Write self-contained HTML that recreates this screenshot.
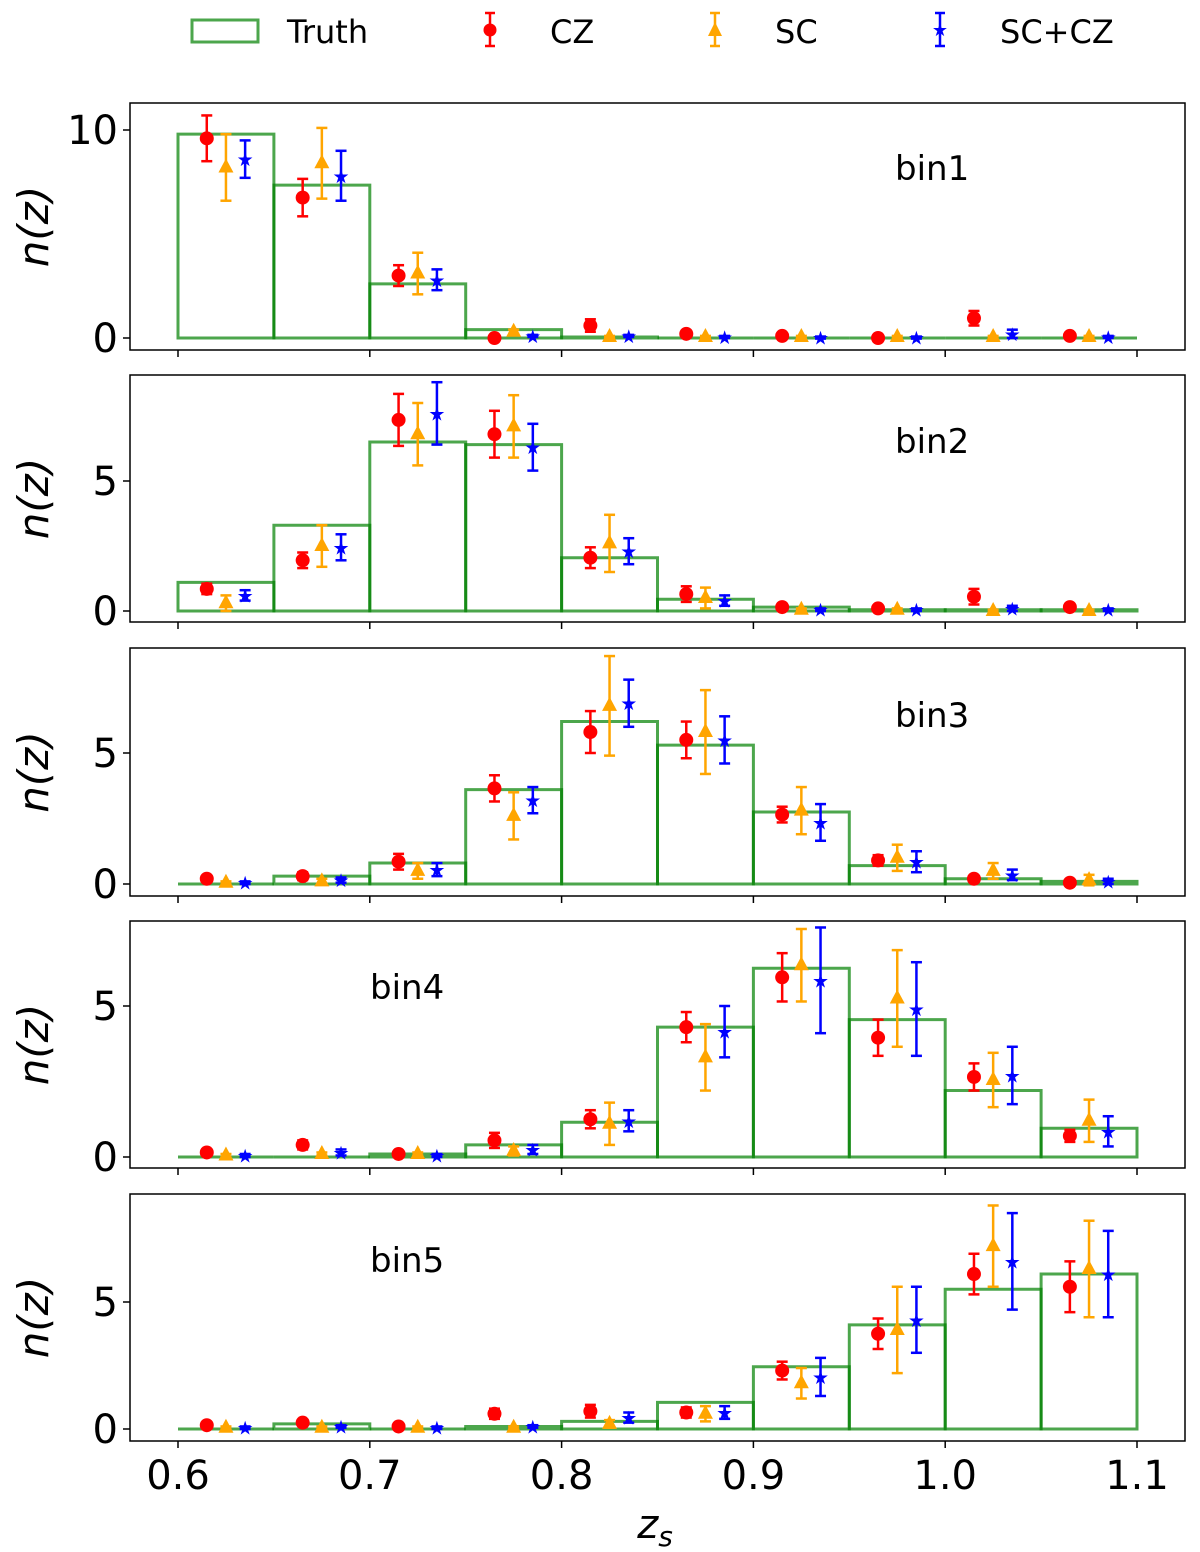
<!DOCTYPE html>
<html><head><meta charset="utf-8"><style>
html,body{margin:0;padding:0;background:#fff;}
svg{display:block;font-family:"DejaVu Sans","Liberation Sans",sans-serif;}
</style></head><body>
<svg id="chart" width="1200" height="1552" viewBox="0 0 1200 1552" xmlns="http://www.w3.org/2000/svg">
<g id="legend">
  <g>
    <rect x="192" y="20" width="66" height="22" fill="none" stroke="green" stroke-opacity="0.7" stroke-width="3"/>
    <text x="287" y="43" font-size="32">Truth</text>
  </g>
  <g>
    <line x1="490" y1="13" x2="490" y2="46" stroke="red" stroke-width="2.5"/><line x1="485" y1="13" x2="495" y2="13" stroke="red" stroke-width="2.5"/><line x1="485" y1="46" x2="495" y2="46" stroke="red" stroke-width="2.5"/>
    <circle cx="490" cy="30" r="6.5" fill="red"/>
    <text x="550" y="43" font-size="32">CZ</text>
  </g>
  <g>
    <line x1="715" y1="13" x2="715" y2="46" stroke="orange" stroke-width="2.5"/><line x1="710" y1="13" x2="720" y2="13" stroke="orange" stroke-width="2.5"/><line x1="710" y1="46" x2="720" y2="46" stroke="orange" stroke-width="2.5"/>
    <polygon points="715,22 722,36 708,36" fill="orange"/>
    <text x="775" y="43" font-size="32">SC</text>
  </g>
  <g>
    <line x1="940" y1="13" x2="940" y2="46" stroke="blue" stroke-width="2.5"/><line x1="935" y1="13" x2="945" y2="13" stroke="blue" stroke-width="2.5"/><line x1="935" y1="46" x2="945" y2="46" stroke="blue" stroke-width="2.5"/>
    <text x="940" y="36" font-size="18" fill="blue" text-anchor="middle">★</text>
    <text x="1000" y="43" font-size="32">SC+CZ</text>
  </g>
</g>
<text x="655" y="1538" font-size="40" font-style="italic" text-anchor="middle">z<tspan font-size="28" dy="8">s</tspan></text>
</svg>
<script>
const edges = [0.6,0.65,0.7,0.75,0.8,0.85,0.9,0.95,1.0,1.05,1.1];
const xTicks = [0.6,0.7,0.8,0.9,1.0,1.1];
const xTickLabels = ["0.6","0.7","0.8","0.9","1.0","1.1"];
const binNames = ["bin1","bin2","bin3","bin4","bin5"];
const truth1 = [9.8,7.35,2.6,0.4,0.05,0,0,0,0,0];
const truth2 = [1.1,3.3,6.5,6.4,2.05,0.45,0.15,0.05,0.05,0.05];
const truth3 = [0.0,0.3,0.8,3.6,6.2,5.3,2.75,0.7,0.2,0.1];
const truth4 = [0.0,0.0,0.1,0.4,1.15,4.3,6.25,4.55,2.2,0.95];
const truth5 = [0.0,0.2,0.0,0.1,0.3,1.05,2.45,4.1,5.5,6.1];
const cz1 = [9.6,6.75,3.0,0.0,0.6,0.2,0.1,0.0,0.95,0.1];
const czErr1 = [1.1,0.9,0.5,0.05,0.3,0.15,0.1,0.05,0.35,0.15];
const sc1 = [8.2,8.4,3.1,0.3,0.05,0.05,0.05,0.05,0.05,0.05];
const scErr1 = [1.6,1.7,1.0,0.1,0.05,0.05,0.05,0.05,0.05,0.05];
const both1 = [8.6,7.8,2.8,0.1,0.1,0.05,0.02,0.02,0.2,0.05];
const bothErr1 = [0.9,1.2,0.5,0.05,0.05,0.05,0.05,0.05,0.2,0.05];
const cz2 = [0.85,1.95,7.35,6.8,2.05,0.65,0.15,0.1,0.55,0.15];
const czErr2 = [0.2,0.3,1.0,0.9,0.4,0.3,0.1,0.05,0.3,0.1];
const sc2 = [0.3,2.5,6.8,7.1,2.6,0.5,0.05,0.05,0.0,0.0];
const scErr2 = [0.3,0.8,1.2,1.2,1.1,0.4,0.05,0.05,0.05,0.05];
const both2 = [0.6,2.45,7.6,6.3,2.3,0.4,0.05,0.05,0.1,0.05];
const bothErr2 = [0.2,0.5,1.2,0.9,0.5,0.2,0.05,0.05,0.1,0.05];
const cz3 = [0.2,0.3,0.85,3.65,5.8,5.5,2.65,0.9,0.2,0.05];
const czErr3 = [0.1,0.15,0.3,0.5,0.8,0.7,0.3,0.2,0.1,0.05];
const sc3 = [0.05,0.1,0.5,2.6,6.8,5.8,2.8,1.0,0.5,0.15];
const scErr3 = [0.05,0.1,0.3,0.9,1.9,1.6,0.9,0.5,0.3,0.2];
const both3 = [0.05,0.15,0.55,3.2,6.9,5.5,2.35,0.85,0.35,0.1];
const bothErr3 = [0.05,0.1,0.25,0.5,0.9,0.9,0.7,0.4,0.2,0.1];
const cz4 = [0.15,0.4,0.1,0.55,1.25,4.3,5.95,3.95,2.65,0.7];
const czErr4 = [0.1,0.15,0.05,0.25,0.3,0.5,0.8,0.6,0.45,0.2];
const sc4 = [0.05,0.1,0.1,0.2,1.1,3.3,6.35,5.25,2.55,1.2];
const scErr4 = [0.05,0.05,0.05,0.15,0.7,1.1,1.2,1.6,0.9,0.7];
const both4 = [0.05,0.15,0.05,0.25,1.2,4.15,5.85,4.9,2.7,0.85];
const bothErr4 = [0.05,0.1,0.05,0.15,0.35,0.85,1.75,1.55,0.95,0.5];
const cz5 = [0.15,0.25,0.1,0.6,0.7,0.65,2.3,3.75,6.1,5.6];
const czErr5 = [0.1,0.1,0.1,0.2,0.25,0.2,0.35,0.6,0.8,1.0];
const sc5 = [0.05,0.05,0.05,0.05,0.2,0.6,1.8,3.9,7.2,6.3];
const scErr5 = [0.05,0.05,0.05,0.05,0.15,0.3,0.6,1.7,1.6,1.9];
const both5 = [0.05,0.1,0.05,0.1,0.45,0.65,2.05,4.3,6.6,6.1];
const bothErr5 = [0.05,0.05,0.05,0.05,0.2,0.25,0.75,1.3,1.9,1.7];
const yTicks1 = [0,10];
const yTicks = [0,5];

const truths=[truth1,truth2,truth3,truth4,truth5];
const czs=[cz1,cz2,cz3,cz4,cz5], czErrs=[czErr1,czErr2,czErr3,czErr4,czErr5];
const scs=[sc1,sc2,sc3,sc4,sc5], scErrs=[scErr1,scErr2,scErr3,scErr4,scErr5];
const boths=[both1,both2,both3,both4,both5], bothErrs=[bothErr1,bothErr2,bothErr3,bothErr4,bothErr5];

const NS="http://www.w3.org/2000/svg";
const svg=document.getElementById('chart');
function mk(tag,attrs,parent){const e=document.createElementNS(NS,tag);for(const k in attrs)e.setAttribute(k,attrs[k]);parent.appendChild(e);return e;}
const X0=130,X1=1185;
function xs(v){return 178+(v-0.6)*1918;}
const layout=[
 {top:103,bot:350,zero:338,ppu:20.8,ticks:yTicks1,lx:895,ly:180},
 {top:375,bot:622,zero:611,ppu:26.0,ticks:yTicks,lx:895,ly:453},
 {top:648,bot:896,zero:884,ppu:26.2,ticks:yTicks,lx:895,ly:727},
 {top:921,bot:1168,zero:1157,ppu:30.2,ticks:yTicks,lx:370,ly:999},
 {top:1194,bot:1441,zero:1429,ppu:25.4,ticks:yTicks,lx:370,ly:1272}
];
function errbar(g,x,y,e,col,ysc){
  const a=ysc(y+e),b=ysc(y-e);
  mk('line',{x1:x,y1:a,x2:x,y2:b,stroke:col,'stroke-width':2.5},g);
  mk('line',{x1:x-5.5,y1:a,x2:x+5.5,y2:a,stroke:col,'stroke-width':2.5},g);
  mk('line',{x1:x-5.5,y1:b,x2:x+5.5,y2:b,stroke:col,'stroke-width':2.5},g);
}
layout.forEach((L,p)=>{
  const ysc=v=>L.zero-v*L.ppu;
  const g=mk('g',{},svg);
  
  
  const frame=mk('rect',{x:X0,y:L.top,width:X1-X0,height:L.bot-L.top,fill:'none',stroke:'#000','stroke-width':1.5},g);
  
  
  truths[p].forEach((v,i)=>{
    const xa=xs(edges[i]),xb=xs(edges[i+1]),yt=ysc(v),yb=ysc(0);
    const r=mk('path',{d:`M${xa},${yb}L${xa},${yt}L${xb},${yt}L${xb},${yb}Z`,fill:'none',stroke:'green','stroke-opacity':0.7,'stroke-width':3},g);
    
    
  });
  xTicks.forEach((t,i)=>{
    mk('line',{x1:xs(t),y1:L.bot,x2:xs(t),y2:L.bot+7,stroke:'#000','stroke-width':1.5},g);
    if(p===4){
      const tx=mk('text',{x:xs(t),y:L.bot+48,'font-size':40,'text-anchor':'middle'},g);
      tx.textContent=xTickLabels[i];
      
      
    }
  });
  L.ticks.forEach(t=>{
    mk('line',{x1:X0-7,y1:ysc(t),x2:X0,y2:ysc(t),stroke:'#000','stroke-width':1.5},g);
    const tx=mk('text',{x:X0-12,y:ysc(t)+14,'font-size':40,'text-anchor':'end'},g);
    tx.textContent=String(t);
    
    
  });
  const yl=mk('text',{x:0,y:0,'font-size':42,'font-style':'italic','text-anchor':'middle',transform:`translate(48,${(L.top+L.bot)/2}) rotate(-90)`},g);
  yl.textContent='n(z)';
  
  
  const bl=mk('text',{x:L.lx,y:L.ly,'font-size':34},g);
  bl.textContent=binNames[p];
  
  
  for(let i=0;i<10;i++){
    const c=(edges[i]+edges[i+1])/2;
    const g1=mk('g',{},g);
    
    
    const x1=xs(c-0.01);
    errbar(g1,x1,czs[p][i],czErrs[p][i],'red',ysc);
    mk('circle',{cx:x1,cy:ysc(czs[p][i]),r:7,fill:'red'},g1);
    const g2=mk('g',{},g);
    
    
    const x2=xs(c);
    errbar(g2,x2,scs[p][i],scErrs[p][i],'orange',ysc);
    const yy=ysc(scs[p][i]);
    mk('polygon',{points:`${x2},${yy-9} ${x2+7.5},${yy+5} ${x2-7.5},${yy+5}`,fill:'orange'},g2);
    const g3=mk('g',{},g);
    
    
    const x3=xs(c+0.01);
    errbar(g3,x3,boths[p][i],bothErrs[p][i],'blue',ysc);
    const st=mk('text',{x:x3,y:ysc(boths[p][i])+7,'font-size':19,fill:'blue','text-anchor':'middle'},g3);
    st.textContent='★';
  }
});
</script>
</body></html>
